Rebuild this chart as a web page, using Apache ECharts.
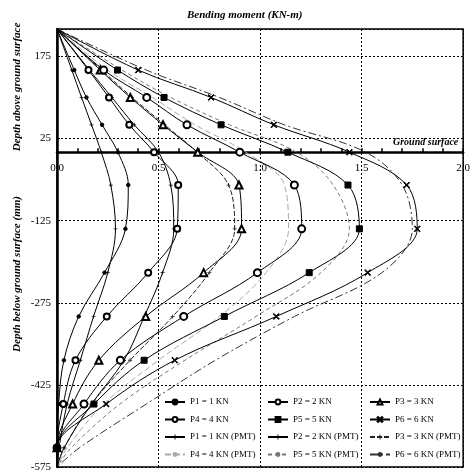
<!DOCTYPE html>
<html>
<head>
<meta charset="utf-8">
<script src="https://cdn.jsdelivr.net/npm/echarts@6/dist/echarts.min.js"></script>
<style>
html, body { margin: 0; padding: 0; background: #fff; }
#main { width: 473px; height: 475px; }
</style>
</head>
<body>
<div id="main"></div>
<script>
// depth levels (mm), pile head to tip
var depths = [ 225, 150, 100, 50, 0, -60, -140, -220, -300, -380, -460, -540, -575 ];

// measured bending moments (KN-m)
var p1 = [ 0, 0.085, 0.145, 0.222, 0.30, 0.351, 0.337, 0.234, 0.107, 0.034, 0.008, 0, 0 ];
var p2 = [ 0, 0.155, 0.256, 0.356, 0.478, 0.597, 0.592, 0.449, 0.245, 0.091, 0.031, 0, 0 ];
var p3 = [ 0, 0.213, 0.361, 0.522, 0.693, 0.896, 0.909, 0.722, 0.437, 0.206, 0.077, 0, 0 ];
var p4 = [ 0, 0.23, 0.442, 0.64, 0.90, 1.169, 1.205, 0.987, 0.624, 0.312, 0.133, 0, 0 ];
var p5 = [ 0, 0.298, 0.527, 0.808, 1.137, 1.433, 1.489, 1.242, 0.824, 0.429, 0.182, 0, 0 ];
var p6 = [ 0, 0.40, 0.759, 1.068, 1.44, 1.722, 1.774, 1.53, 1.08, 0.58, 0.242, 0, 0 ];

// PMT predictions (KN-m)
var p1pmt = [ 0, 0.073, 0.121, 0.17, 0.218, 0.265, 0.288, 0.25, 0.18, 0.115, 0.05, 0.01, 0 ];
var p2pmt = [ 0, 0.16, 0.27, 0.38, 0.50, 0.56, 0.575, 0.52, 0.43, 0.33, 0.17, 0.035, 0 ];
var p3pmt = [ 0, 0.22, 0.37, 0.53, 0.69, 0.845, 0.875, 0.75, 0.57, 0.36, 0.17, 0.035, 0 ];
var p4pmt = [ 0, 0.25, 0.47, 0.68, 0.93, 1.12, 1.14, 1.03, 0.80, 0.50, 0.23, 0.05, 0 ];
var p5pmt = [ 0, 0.32, 0.56, 0.85, 1.18, 1.36, 1.44, 1.30, 0.98, 0.63, 0.31, 0.07, 0 ];
var p6pmt = [ 0, 0.44, 0.80, 1.12, 1.52, 1.70, 1.75, 1.60, 1.17, 0.78, 0.44, 0.11, 0 ];

var serif = '"Liberation Serif", "DejaVu Serif", serif';
var plusPath = 'path://M4,0H6V4H10V6H6V10H4V6H0V4H4Z';
var starPath = 'path://M0,1L1,0L5,4L9,0L10,1L6,5L10,9L9,10L5,6L1,10L0,9L4,5Z';

// plot box, px
var gridTop = 29, gridBottom = 8, chartH = 475;
var yMin = -575, yMax = 225;
// move the bending moment axis up to the ground surface (depth 0)
var plotH = chartH - gridTop - gridBottom;
var groundOffset = -plotH * (0 - yMin) / (yMax - yMin);

function pts(vals) {
	var out = [];
	for (var i = 0; i < vals.length; i++) {
		if (i === 0 || i === vals.length - 1) {
			out.push({ value : [ vals[i], depths[i] ], symbolSize : 0 });
		} else {
			out.push([ vals[i], depths[i] ]);
		}
	}
	return out;
}

function measured(name, vals, symbol, size) {
	return {
		name : name,
		type : 'line',
		data : pts(vals),
		smooth : 0.35,
		symbol : symbol,
		symbolSize : size,
		showAllSymbol : true,
		color : '#000',
		lineStyle : { color : '#000', width : 1 },
		itemStyle : { color : '#000', borderColor : '#000', borderWidth : 1 },
		z : 3
	};
}

function pmt(name, vals, color, type, symbol) {
	return {
		name : name,
		type : 'line',
		data : pts(vals),
		smooth : 0.35,
		symbol : symbol || 'none',
		symbolSize : 4,
		showAllSymbol : true,
		color : color,
		lineStyle : { color : color, width : 1, type : type },
		itemStyle : { color : color },
		z : 2
	};
}

function legendCol(left, names) {
	return {
		orient : 'vertical',
		left : left,
		top : 396,
		padding : 0,
		itemWidth : 20,
		itemHeight : 6,
		itemGap : 5.5,
		textStyle : { fontFamily : serif, fontSize : 9, color : '#000', lineHeight : 12 },
		data : names
	};
}

var myChart = echarts.init(document.getElementById('main'));
var option = {
	animation : false,
	backgroundColor : '#fff',
	textStyle : { fontFamily : serif },
	title : {
		text : 'Bending moment (KN-m)',
		left : 182,
		top : 5,
		textStyle : { fontFamily : serif, fontSize : 11, fontWeight : 'bold', fontStyle : 'italic', color : '#000' }
	},
	grid : {
		left : 57,
		right : 6,
		top : gridTop,
		bottom : gridBottom,
		show : true,
		borderColor : '#000',
		borderWidth : 1.5
	},
	xAxis : {
		type : 'value',
		min : 0,
		max : 2,
		interval : 0.5,
		position : 'bottom',
		offset : groundOffset,
		axisLine : { onZero : false, lineStyle : { color : '#000', width : 2.5 } },
		axisTick : { show : true, inside : true, length : 4, lineStyle : { color : '#000', width : 1.5 } },
		minorTick : { show : true, splitNumber : 5, length : 4, lineStyle : { color : '#000', width : 1.5 } },
		axisLabel : {
			color : '#000',
			fontFamily : serif,
			fontSize : 11,
			margin : 10,
			formatter : function(v) { return v.toFixed(1); }
		},
		splitLine : { show : true, lineStyle : { color : '#000', type : [ 2, 2 ], width : 1 } }
	},
	yAxis : {
		type : 'value',
		min : yMin,
		max : yMax,
		interval : 150,
		axisLine : { show : true, onZero : false, lineStyle : { color : '#000', width : 2.5 } },
		axisTick : { show : true, inside : true, length : 3, lineStyle : { color : '#000' } },
		axisLabel : { color : '#000', fontFamily : serif, fontSize : 11, margin : 6, showMaxLabel : false },
		splitLine : { show : true, lineStyle : { color : '#000', type : [ 2, 2 ], width : 1 } }
	},
	legend : [
		legendCol(164, [ 'P1 = 1 KN', 'P4 = 4 KN', 'P1 = 1 KN (PMT)', 'P4 = 4 KN (PMT)' ]),
		legendCol(267, [ 'P2 = 2 KN', 'P5 = 5 KN', 'P2 = 2 KN (PMT)', 'P5 = 5 KN (PMT)' ]),
		legendCol(369, [ 'P3 = 3 KN', 'P6 = 6 KN', 'P3 = 3 KN (PMT)', 'P6 = 6 KN (PMT)' ])
	],
	graphic : [ {
		type : 'text', x : 17, y : 87, rotation : Math.PI / 2,
		style : { text : 'Depth above ground surface', align : 'center', verticalAlign : 'middle',
			font : 'italic bold 11px ' + serif, fill : '#000' }
	}, {
		type : 'text', x : 17, y : 274, rotation : Math.PI / 2,
		style : { text : 'Depth below ground surface (mm)', align : 'center', verticalAlign : 'middle',
			font : 'italic bold 11px ' + serif, fill : '#000' }
	}, {
		type : 'text', x : 393, y : 142,
		style : { text : 'Ground surface', align : 'left', verticalAlign : 'middle',
			font : 'italic bold 10px ' + serif, fill : '#000' }
	} ],
	series : [
		measured('P1 = 1 KN', p1, 'circle', 3.5),
		measured('P2 = 2 KN', p2, 'emptyCircle', 6),
		measured('P3 = 3 KN', p3, 'emptyTriangle', 7),
		measured('P4 = 4 KN', p4, 'emptyCircle', 7),
		measured('P5 = 5 KN', p5, 'rect', 6),
		measured('P6 = 6 KN', p6, starPath, 6),
		pmt('P1 = 1 KN (PMT)', p1pmt, '#000', 'solid', plusPath),
		pmt('P2 = 2 KN (PMT)', p2pmt, '#000', 'solid', plusPath),
		pmt('P3 = 3 KN (PMT)', p3pmt, '#222', [ 5, 2 ], plusPath),
		pmt('P4 = 4 KN (PMT)', p4pmt, '#aaa', [ 6, 3 ]),
		pmt('P5 = 5 KN (PMT)', p5pmt, '#777', [ 4, 3 ]),
		pmt('P6 = 6 KN (PMT)', p6pmt, '#333', [ 8, 3, 2, 3 ])
	]
};
myChart.setOption(option);
</script>
</body>
</html>
